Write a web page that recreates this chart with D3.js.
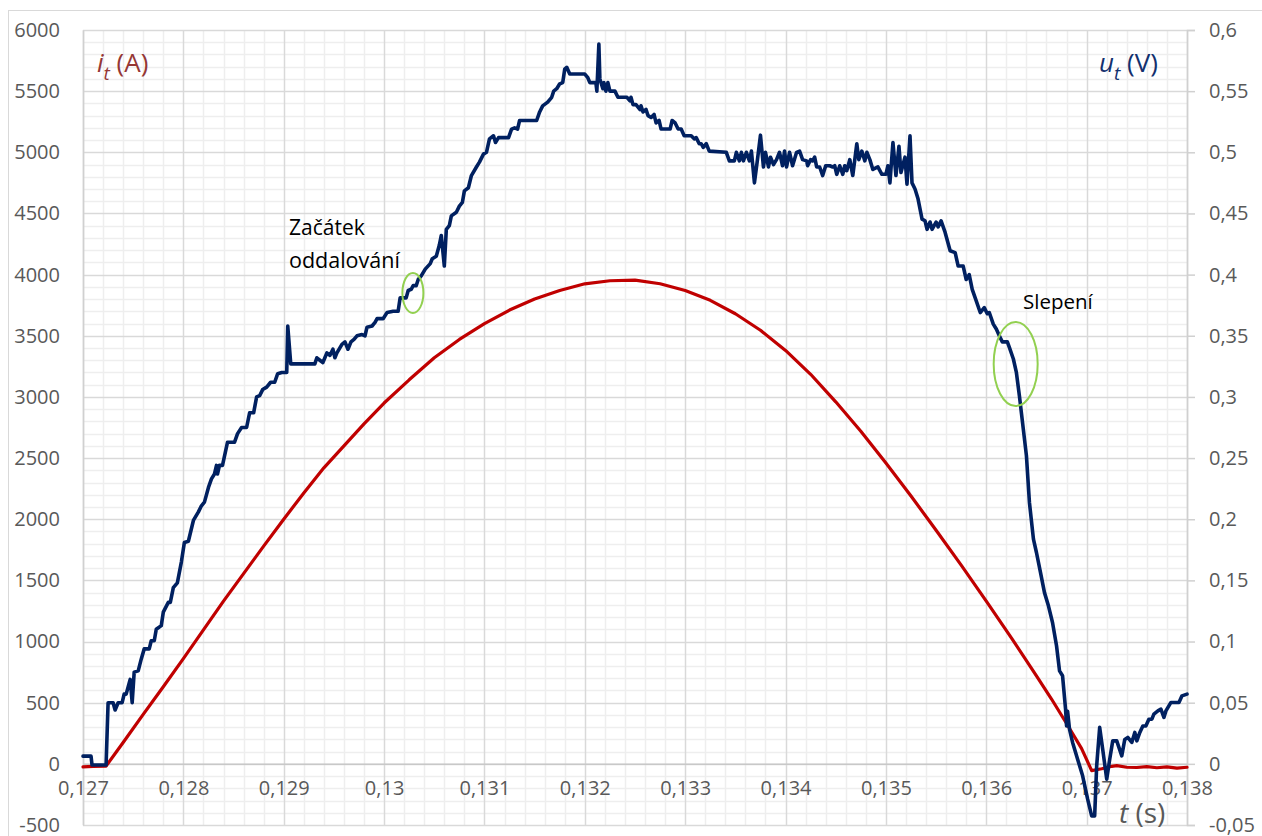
<!DOCTYPE html>
<html><head><meta charset="utf-8">
<script src="https://cdn.jsdelivr.net/npm/d3@7/dist/d3.min.js"></script>
<style>
body{margin:0;background:#fff;}
svg{display:block;font-family:"Open Sans",sans-serif;}
</style></head>
<body>
<script>
// ---- data ----
const xTicks = [0.127,0.128,0.129,0.130,0.131,0.132,0.133,0.134,0.135,0.136,0.137,0.138];
const xTickLabels = ["0,127","0,128","0,129","0,13","0,131","0,132","0,133","0,134","0,135","0,136","0,137","0,138"];
const leftTicks = [-500,0,500,1000,1500,2000,2500,3000,3500,4000,4500,5000,5500,6000];
const rightTicks = [-0.05,0,0.05,0.1,0.15,0.2,0.25,0.3,0.35,0.4,0.45,0.5,0.55,0.6];
const rightTickLabels = ["-0,05","0","0,05","0,1","0,15","0,2","0,25","0,3","0,35","0,4","0,45","0,5","0,55","0,6"];

// current i_t (A) : [t (s), A]
const current = [
[0.12700,-25],[0.12710,-20],[0.12723,-18],[0.12740,175],[0.12760,405],[0.12780,630],[0.12800,860],
[0.12820,1095],[0.12840,1330],[0.12860,1555],[0.12880,1780],[0.12900,2000],[0.12920,2215],[0.12940,2420],
[0.12960,2600],[0.12980,2780],[0.13000,2950],[0.13025,3140],[0.13050,3320],[0.13075,3470],[0.13100,3600],
[0.13125,3710],[0.13150,3800],[0.13175,3870],[0.13200,3925],[0.13225,3950],[0.13250,3955],[0.13275,3925],
[0.13300,3870],[0.13325,3790],[0.13350,3680],[0.13375,3545],[0.13400,3380],[0.13425,3185],[0.13450,2960],
[0.13475,2720],[0.13500,2460],[0.13525,2190],[0.13550,1910],[0.13575,1625],[0.13600,1330],[0.13625,1030],
[0.13650,720],[0.13665,530],[0.13680,330],[0.13695,125],[0.13705,-55],[0.13715,-40],[0.13725,-20],
[0.13730,-15],[0.13740,-28],[0.13750,-30],[0.13760,-22],[0.13770,-32],[0.13780,-25],[0.13790,-35],[0.13800,-28]
];

// voltage u_t (V) : [t (s), V]
const voltage = [
[0.12700,0.0063],[0.12708,0.0063],[0.12709,-0.001],[0.12723,-0.001],[0.12725,0.050],[0.12730,0.050],
[0.12732,0.044],[0.12735,0.050],[0.12739,0.050],[0.12741,0.057],[0.12743,0.057],[0.12747,0.069],
[0.12749,0.050],[0.12751,0.075],[0.12755,0.076],[0.12758,0.0856],[0.12761,0.094],[0.12766,0.094],
[0.12768,0.1006],[0.12771,0.1006],[0.12773,0.110],[0.12778,0.113],[0.12780,0.124],[0.12785,0.132],
[0.12787,0.132],[0.12790,0.144],[0.12794,0.148],[0.12798,0.165],[0.12801,0.181],[0.12805,0.182],
[0.12810,0.199],[0.12815,0.206],[0.12818,0.211],[0.12821,0.214],[0.12825,0.226],[0.12828,0.233],
[0.12831,0.237],[0.12833,0.244],[0.12834,0.237],[0.12836,0.244],[0.12839,0.244],[0.12844,0.263],
[0.12851,0.263],[0.12854,0.270],[0.12858,0.275],[0.12863,0.275],[0.12866,0.287],[0.12870,0.287],
[0.12873,0.300],[0.12876,0.301],[0.12879,0.306],[0.12883,0.308],[0.12887,0.312],[0.12891,0.312],
[0.12894,0.319],[0.12898,0.320],[0.12903,0.320],[0.12904,0.358],[0.12907,0.327],[0.12931,0.327],
[0.12933,0.332],[0.12936,0.330],[0.12939,0.328],[0.12941,0.332],[0.12943,0.336],[0.12946,0.334],
[0.12949,0.339],[0.12951,0.332],[0.12953,0.336],[0.12958,0.343],[0.12961,0.345],[0.12964,0.339],
[0.12967,0.345],[0.12970,0.347],[0.12973,0.350],[0.12978,0.351],[0.12981,0.350],[0.12983,0.357],
[0.12988,0.358],[0.12991,0.361],[0.12993,0.364],[0.12999,0.364],[0.13003,0.369],[0.13009,0.370],
[0.13014,0.370],[0.13016,0.381],[0.13022,0.381],[0.13024,0.387],[0.13027,0.388],[0.13029,0.391],
[0.13032,0.391],[0.13034,0.396],[0.13037,0.399],[0.13041,0.4045],[0.13046,0.409],[0.13048,0.413],
[0.13052,0.415],[0.13055,0.424],[0.13057,0.432],[0.13060,0.407],[0.13062,0.437],[0.13065,0.440],
[0.13067,0.448],[0.13072,0.451],[0.13075,0.456],[0.13078,0.459],[0.13080,0.4685],[0.13084,0.471],
[0.13087,0.481],[0.13092,0.488],[0.13095,0.492],[0.13099,0.4985],[0.13102,0.500],[0.13105,0.511],
[0.13109,0.5135],[0.13111,0.508],[0.13114,0.512],[0.13124,0.512],[0.13127,0.519],[0.13130,0.520],
[0.13133,0.519],[0.13135,0.526],[0.13152,0.526],[0.13155,0.533],[0.13158,0.538],[0.13163,0.541],
[0.13167,0.545],[0.13169,0.550],[0.13172,0.552],[0.13175,0.556],[0.13178,0.557],[0.13180,0.568],
[0.13182,0.5695],[0.13185,0.564],[0.13200,0.564],[0.13203,0.561],[0.13205,0.557],[0.13211,0.557],
[0.13212,0.550],[0.13214,0.5885],[0.13215,0.560],[0.13218,0.552],[0.13219,0.557],[0.13221,0.550],
[0.13223,0.557],[0.13225,0.550],[0.13230,0.550],[0.13233,0.545],[0.13242,0.545],[0.13245,0.542],
[0.13246,0.545],[0.13248,0.539],[0.13251,0.539],[0.13255,0.535],[0.13256,0.538],[0.13258,0.533],
[0.13261,0.535],[0.13263,0.530],[0.13266,0.5285],[0.13269,0.531],[0.13271,0.524],[0.13274,0.526],
[0.13276,0.519],[0.13285,0.519],[0.13287,0.526],[0.13290,0.524],[0.13293,0.519],[0.13296,0.519],
[0.13299,0.5135],[0.13306,0.5135],[0.13309,0.511],[0.13311,0.512],[0.13314,0.507],[0.13316,0.507],
[0.13318,0.504],[0.13321,0.507],[0.13324,0.501],[0.13341,0.500],[0.13344,0.493],[0.13349,0.493],
[0.13351,0.500],[0.13354,0.493],[0.13356,0.500],[0.13358,0.493],[0.13361,0.500],[0.13364,0.493],
[0.13366,0.501],[0.13369,0.475],[0.13372,0.494],[0.13375,0.514],[0.13378,0.488],[0.13380,0.500],
[0.13383,0.488],[0.13385,0.496],[0.13388,0.490],[0.13391,0.494],[0.13394,0.500],[0.13397,0.489],
[0.13399,0.501],[0.13401,0.488],[0.13404,0.500],[0.13407,0.489],[0.13411,0.500],[0.13414,0.501],
[0.13417,0.494],[0.13421,0.493],[0.13422,0.489],[0.13425,0.494],[0.13427,0.493],[0.13429,0.496],
[0.13431,0.488],[0.13434,0.488],[0.13437,0.481],[0.13440,0.489],[0.13444,0.489],[0.13447,0.488],
[0.13449,0.489],[0.13451,0.482],[0.13454,0.489],[0.13457,0.482],[0.13459,0.489],[0.13461,0.485],
[0.13464,0.494],[0.13467,0.481],[0.13471,0.507],[0.13473,0.494],[0.13476,0.501],[0.13479,0.493],
[0.13481,0.500],[0.13484,0.494],[0.13487,0.486],[0.13492,0.488],[0.13496,0.482],[0.13500,0.482],
[0.13502,0.489],[0.13504,0.475],[0.13507,0.508],[0.13510,0.481],[0.13513,0.505],[0.13515,0.4835],
[0.13519,0.496],[0.13521,0.474],[0.13524,0.5135],[0.13526,0.475],[0.13529,0.470],[0.13532,0.462],
[0.13536,0.4454],[0.13539,0.444],[0.13541,0.437],[0.13544,0.443],[0.13546,0.437],[0.13550,0.443],
[0.13552,0.439],[0.13555,0.444],[0.13559,0.4345],[0.13564,0.4195],[0.13569,0.418],[0.13572,0.407],
[0.13577,0.407],[0.13580,0.396],[0.13583,0.400],[0.13586,0.388],[0.13590,0.3786],[0.13594,0.369],
[0.13598,0.373],[0.13601,0.368],[0.13603,0.369],[0.13607,0.3595],[0.13610,0.3555],[0.13613,0.350],
[0.13616,0.345],[0.13621,0.345],[0.13623,0.3405],[0.13627,0.331],[0.13630,0.320],[0.13633,0.301],
[0.13640,0.252],[0.13643,0.2137],[0.13647,0.1837],[0.13650,0.1728],[0.13654,0.1565],[0.13658,0.140],
[0.13662,0.129],[0.13666,0.1156],[0.13670,0.0965],[0.13673,0.076],[0.13676,0.072],[0.13679,0.0447],
[0.13680,0.031],[0.13681,0.043],[0.13683,0.028],[0.13686,0.0175],[0.13691,0.0038],[0.13696,-0.0098],
[0.13701,-0.0289],[0.13705,-0.0425],[0.13708,-0.0425],[0.13710,-0.0016],[0.13713,0.0298],[0.13716,0.012],
[0.13720,-0.0125],[0.13723,0.0038],[0.13726,0.0188],[0.13730,0.0188],[0.13735,0.0065],[0.13738,0.020],
[0.13741,0.0216],[0.13745,0.0175],[0.13748,0.0257],[0.13750,0.0188],[0.13753,0.0257],[0.13756,0.031],
[0.13759,0.031],[0.13762,0.0365],[0.13765,0.0365],[0.13767,0.0406],[0.13771,0.0433],[0.13774,0.0447],
[0.13777,0.038],[0.13779,0.0433],[0.13784,0.0502],[0.13792,0.0502],[0.13795,0.0556],[0.13800,0.057]
];

const ellipses = [[0.130287,3850,10.5,20],[0.136293,3269,22,42]];

// ---- drawing ----
const W = 1262, H = 836;
const L = 83, R = 1187, T = 30, B = 825;
const svg = d3.select("body").append("svg").attr("width",W).attr("height",H);

svg.append("rect").attr("x",8.5).attr("y",10.5).attr("width",1300).attr("height",900)
  .attr("fill","none").attr("stroke","#d9d9d9").attr("stroke-width",1);

const x = d3.scaleLinear().domain([0.127,0.138]).range([L,R]);
const yL = d3.scaleLinear().domain([-500,6000]).range([B,T]);
const yR = d3.scaleLinear().domain([-0.05,0.6]).range([B,T]);

const g = svg.append("g");
const minorX = d3.range(0,56).map(i=>0.127+i*0.0002).filter((v,i)=>i%5!==0);
const minorY = d3.range(0,66).map(i=>-500+i*100).filter((v,i)=>i%5!==0);
g.selectAll(".mx").data(minorX).join("line")
  .attr("x1",d=>Math.round(x(d))+0.5).attr("x2",d=>Math.round(x(d))+0.5).attr("y1",T).attr("y2",B)
  .attr("stroke","#eeeeee").attr("stroke-width",1.5);
g.selectAll(".my").data(minorY).join("line")
  .attr("y1",d=>Math.round(yL(d))+0.5).attr("y2",d=>Math.round(yL(d))+0.5).attr("x1",L).attr("x2",R)
  .attr("stroke","#eeeeee").attr("stroke-width",1.5);
g.selectAll(".Mx").data(xTicks).join("line")
  .attr("x1",d=>Math.round(x(d))+0.5).attr("x2",d=>Math.round(x(d))+0.5).attr("y1",T).attr("y2",B)
  .attr("stroke","#d9d9d9").attr("stroke-width",1.5);
g.selectAll(".My").data(leftTicks).join("line")
  .attr("y1",d=>Math.round(yL(d))+0.5).attr("y2",d=>Math.round(yL(d))+0.5).attr("x1",L).attr("x2",R)
  .attr("stroke","#d9d9d9").attr("stroke-width",1.5);

// axes
const axL = d3.axisLeft(yL).tickValues(leftTicks).tickFormat(d=>String(d)).tickSize(0).tickPadding(23);
const gl = svg.append("g").attr("transform",`translate(${L},0)`).call(axL);
gl.select(".domain").attr("stroke","#d0d0d0").attr("stroke-width",1.5);
gl.selectAll("text").attr("font-size",20).attr("fill","#595959").attr("font-family","Open Sans");

const axR = d3.axisRight(yR).tickValues(rightTicks).tickFormat((d,i)=>rightTickLabels[i]).tickSize(8).tickPadding(14);
const gr = svg.append("g").attr("transform",`translate(${R},0)`).call(axR);
gr.select(".domain").attr("stroke","#d0d0d0").attr("stroke-width",1.5);
gr.selectAll(".tick line").attr("stroke","#d0d0d0").attr("stroke-width",1.5);
gr.selectAll("text").attr("font-size",20).attr("fill","#595959").attr("font-family","Open Sans");

const axB = d3.axisBottom(x).tickValues(xTicks).tickFormat((d,i)=>xTickLabels[i]).tickSize(0).tickPadding(17);
const gb = svg.append("g").attr("transform",`translate(0,${yL(0)})`).call(axB);
gb.select(".domain").attr("stroke","#c8c8c8").attr("stroke-width",1.5);
gb.selectAll("text").attr("font-size",20).attr("fill","#595959").attr("font-family","Open Sans");

// lines
const lineI = d3.line().x(d=>x(d[0])).y(d=>yL(d[1]));
const lineU = d3.line().x(d=>x(d[0])).y(d=>yR(d[1]));
svg.append("path").datum(current).attr("d",lineI).attr("fill","none")
  .attr("stroke","#c00000").attr("stroke-width",3.2).attr("stroke-linejoin","round").attr("stroke-linecap","round");
svg.append("path").datum(voltage).attr("d",lineU).attr("fill","none")
  .attr("stroke","#002060").attr("stroke-width",3.6).attr("stroke-linejoin","round").attr("stroke-linecap","round");

// ellipses
svg.selectAll(".ell").data(ellipses).join("ellipse")
  .attr("cx",d=>x(d[0])).attr("cy",d=>yL(d[1])).attr("rx",d=>d[2]).attr("ry",d=>d[3])
  .attr("fill","none").attr("stroke","#92d050").attr("stroke-width",2);

// annotations
svg.append("text").attr("x",289).attr("y",235).attr("font-size",21).attr("fill","#000").text("Začátek");
svg.append("text").attr("x",289).attr("y",268).attr("font-size",21.5).attr("fill","#000").text("oddalování");
svg.append("text").attr("x",1023).attr("y",309).attr("font-size",20.5).attr("fill","#000").text("Slepení");

// axis titles
const ti = svg.append("text").attr("x",97).attr("y",72).attr("font-size",26).attr("fill","#953735");
ti.append("tspan").attr("font-style","italic").text("i");
ti.append("tspan").attr("font-style","italic").attr("font-size",19).attr("dy",8).text("t");
ti.append("tspan").attr("dy",-8).text(" (A)");

const tu = svg.append("text").attr("x",1099).attr("y",72).attr("font-size",26).attr("fill","#12306e");
tu.append("tspan").attr("font-style","italic").text("u");
tu.append("tspan").attr("font-style","italic").attr("font-size",19).attr("dy",8).text("t");
tu.append("tspan").attr("dy",-8).text(" (V)");

const tt = svg.append("text").attr("x",1119).attr("y",823).attr("font-size",28).attr("fill","#595959");
tt.append("tspan").attr("font-style","italic").text("t");
tt.append("tspan").text(" (s)");
</script>
</body></html>
